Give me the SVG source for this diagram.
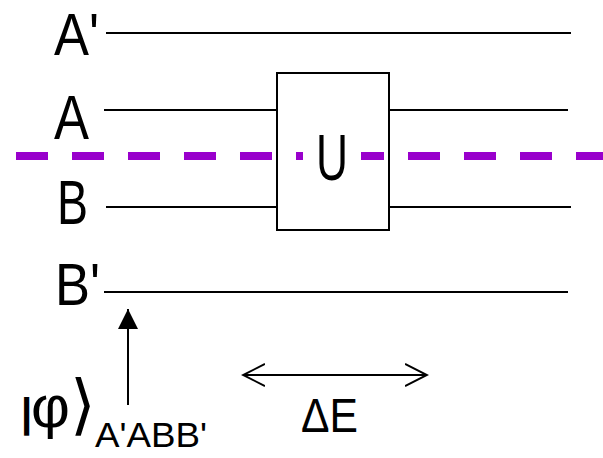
<svg xmlns="http://www.w3.org/2000/svg" width="603" height="458" viewBox="0 0 603 458">
<style>
.lbl{font-family:"Liberation Sans",Arial,sans-serif;fill:#000}
.wire{stroke:#000;stroke-width:2;fill:none}
.cut{stroke:#9900cc;stroke-width:8;stroke-dasharray:32 24;fill:none}
</style>
<defs>
<marker id="tri" viewBox="0 0 20 20" refX="20" refY="10" markerWidth="20" markerHeight="20" markerUnits="userSpaceOnUse" orient="auto">
<path d="M0,0 L20,10 L0,20 Z" fill="#000"/>
</marker>
<marker id="open" viewBox="0 0 24 24" refX="22" refY="12" markerWidth="24" markerHeight="24" markerUnits="userSpaceOnUse" orient="auto-start-reverse">
<path d="M0,1 L22,12 L0,23" fill="none" stroke="#000" stroke-width="2"/>
</marker>
</defs>
<g id="connectors">
<line class="wire" x1="106" y1="33" x2="571" y2="33"/>
<line class="wire" x1="104" y1="110" x2="277" y2="110"/>
<line class="wire" x1="389" y1="110" x2="568" y2="110"/>
<line class="wire" x1="106" y1="207" x2="277" y2="207"/>
<line class="wire" x1="389" y1="207" x2="571" y2="207"/>
<line class="wire" x1="104" y1="292" x2="568" y2="292"/>
<line class="wire" x1="128" y1="405" x2="128" y2="309" marker-end="url(#tri)"/>
<line class="wire" x1="243" y1="375" x2="427" y2="375" marker-start="url(#open)" marker-end="url(#open)"/>
</g>
<g id="cut">
<line class="cut" x1="16" y1="156" x2="603" y2="156"/>
</g>
<g id="U">
<rect x="277" y="73" width="112" height="157" fill="none" stroke="#000" stroke-width="2"/>
<rect x="303" y="128" width="58" height="56" fill="#fff"/>
<text class="lbl" x="316" y="180" font-size="64" textLength="32" lengthAdjust="spacingAndGlyphs">U</text>
</g>
<g id="labels">
<text class="lbl" x="54" y="55" font-size="60" textLength="45" lengthAdjust="spacingAndGlyphs">A'</text>
<text class="lbl" x="54" y="139" font-size="63" textLength="35" lengthAdjust="spacingAndGlyphs">A</text>
<text class="lbl" x="57" y="224" font-size="63" textLength="31" lengthAdjust="spacingAndGlyphs">B</text>
<text class="lbl" x="55" y="305" font-size="60" textLength="45" lengthAdjust="spacingAndGlyphs">B'</text>
<text class="lbl" x="301" y="432" font-size="49" textLength="57" lengthAdjust="spacingAndGlyphs">ΔE</text>
</g>
<g id="state">
<text class="lbl" y="427"><tspan x="21" font-size="40" font-weight="bold">|</tspan><tspan x="31" font-size="60">φ</tspan><tspan x="70" font-size="66">⟩</tspan></text>
<text class="lbl" x="95" y="447" font-size="35" textLength="112" lengthAdjust="spacingAndGlyphs">A'ABB'</text>
</g>
</svg>
